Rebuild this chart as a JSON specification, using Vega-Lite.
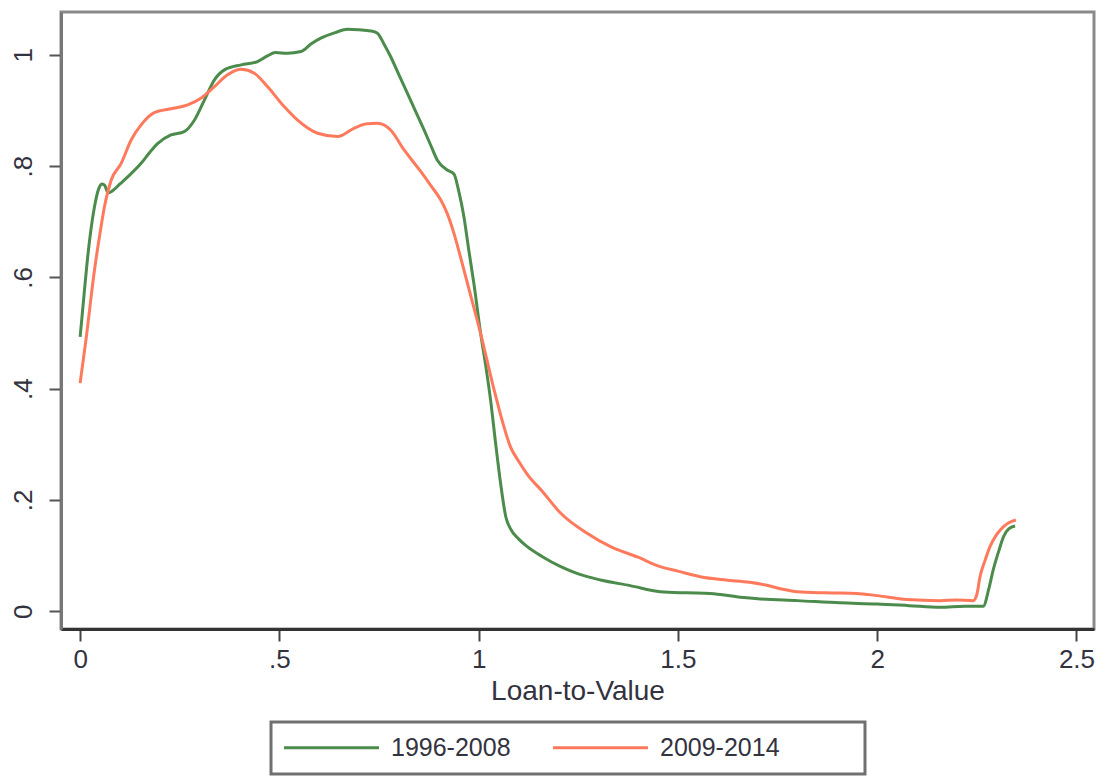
{
  "$schema": "https://vega.github.io/schema/vega-lite/v6.json",
  "width": 1033,
  "height": 617,
  "autosize": {"type": "none"},
  "padding": {"left": 61, "top": 12, "right": 17, "bottom": 149},
  "background": "white",
  "config": {
    "font": "Liberation Sans",
    "view": {"stroke": "#8a8a8a", "strokeWidth": 3},
    "legend": {"strokeWidth": 3}
  },
  "data": {
    "values": [
      {"ltv": 0.000, "density": 0.493, "period": "1996-2008"},
      {"ltv": 0.010, "density": 0.570, "period": "1996-2008"},
      {"ltv": 0.019, "density": 0.637, "period": "1996-2008"},
      {"ltv": 0.036, "density": 0.727, "period": "1996-2008"},
      {"ltv": 0.047, "density": 0.760, "period": "1996-2008"},
      {"ltv": 0.055, "density": 0.768, "period": "1996-2008"},
      {"ltv": 0.062, "density": 0.765, "period": "1996-2008"},
      {"ltv": 0.070, "density": 0.752, "period": "1996-2008"},
      {"ltv": 0.080, "density": 0.755, "period": "1996-2008"},
      {"ltv": 0.100, "density": 0.768, "period": "1996-2008"},
      {"ltv": 0.120, "density": 0.781, "period": "1996-2008"},
      {"ltv": 0.153, "density": 0.805, "period": "1996-2008"},
      {"ltv": 0.175, "density": 0.825, "period": "1996-2008"},
      {"ltv": 0.195, "density": 0.841, "period": "1996-2008"},
      {"ltv": 0.228, "density": 0.856, "period": "1996-2008"},
      {"ltv": 0.261, "density": 0.862, "period": "1996-2008"},
      {"ltv": 0.287, "density": 0.883, "period": "1996-2008"},
      {"ltv": 0.312, "density": 0.919, "period": "1996-2008"},
      {"ltv": 0.337, "density": 0.955, "period": "1996-2008"},
      {"ltv": 0.362, "density": 0.973, "period": "1996-2008"},
      {"ltv": 0.404, "density": 0.982, "period": "1996-2008"},
      {"ltv": 0.445, "density": 0.988, "period": "1996-2008"},
      {"ltv": 0.470, "density": 0.998, "period": "1996-2008"},
      {"ltv": 0.490, "density": 1.004, "period": "1996-2008"},
      {"ltv": 0.520, "density": 1.003, "period": "1996-2008"},
      {"ltv": 0.554, "density": 1.006, "period": "1996-2008"},
      {"ltv": 0.580, "density": 1.020, "period": "1996-2008"},
      {"ltv": 0.604, "density": 1.030, "period": "1996-2008"},
      {"ltv": 0.640, "density": 1.040, "period": "1996-2008"},
      {"ltv": 0.671, "density": 1.046, "period": "1996-2008"},
      {"ltv": 0.700, "density": 1.045, "period": "1996-2008"},
      {"ltv": 0.729, "density": 1.043, "period": "1996-2008"},
      {"ltv": 0.746, "density": 1.039, "period": "1996-2008"},
      {"ltv": 0.762, "density": 1.020, "period": "1996-2008"},
      {"ltv": 0.779, "density": 0.997, "period": "1996-2008"},
      {"ltv": 0.800, "density": 0.964, "period": "1996-2008"},
      {"ltv": 0.821, "density": 0.931, "period": "1996-2008"},
      {"ltv": 0.842, "density": 0.898, "period": "1996-2008"},
      {"ltv": 0.863, "density": 0.865, "period": "1996-2008"},
      {"ltv": 0.880, "density": 0.837, "period": "1996-2008"},
      {"ltv": 0.896, "density": 0.811, "period": "1996-2008"},
      {"ltv": 0.921, "density": 0.793, "period": "1996-2008"},
      {"ltv": 0.938, "density": 0.786, "period": "1996-2008"},
      {"ltv": 0.950, "density": 0.755, "period": "1996-2008"},
      {"ltv": 0.963, "density": 0.709, "period": "1996-2008"},
      {"ltv": 0.975, "density": 0.650, "period": "1996-2008"},
      {"ltv": 0.988, "density": 0.589, "period": "1996-2008"},
      {"ltv": 1.005, "density": 0.499, "period": "1996-2008"},
      {"ltv": 1.018, "density": 0.440, "period": "1996-2008"},
      {"ltv": 1.030, "density": 0.379, "period": "1996-2008"},
      {"ltv": 1.042, "density": 0.305, "period": "1996-2008"},
      {"ltv": 1.055, "density": 0.230, "period": "1996-2008"},
      {"ltv": 1.068, "density": 0.170, "period": "1996-2008"},
      {"ltv": 1.080, "density": 0.148, "period": "1996-2008"},
      {"ltv": 1.100, "density": 0.130, "period": "1996-2008"},
      {"ltv": 1.122, "density": 0.116, "period": "1996-2008"},
      {"ltv": 1.160, "density": 0.098, "period": "1996-2008"},
      {"ltv": 1.206, "density": 0.080, "period": "1996-2008"},
      {"ltv": 1.250, "density": 0.067, "period": "1996-2008"},
      {"ltv": 1.306, "density": 0.056, "period": "1996-2008"},
      {"ltv": 1.380, "density": 0.046, "period": "1996-2008"},
      {"ltv": 1.456, "density": 0.035, "period": "1996-2008"},
      {"ltv": 1.520, "density": 0.033, "period": "1996-2008"},
      {"ltv": 1.581, "density": 0.032, "period": "1996-2008"},
      {"ltv": 1.657, "density": 0.025, "period": "1996-2008"},
      {"ltv": 1.707, "density": 0.022, "period": "1996-2008"},
      {"ltv": 1.800, "density": 0.019, "period": "1996-2008"},
      {"ltv": 1.907, "density": 0.015, "period": "1996-2008"},
      {"ltv": 2.000, "density": 0.013, "period": "1996-2008"},
      {"ltv": 2.080, "density": 0.010, "period": "1996-2008"},
      {"ltv": 2.158, "density": 0.007, "period": "1996-2008"},
      {"ltv": 2.220, "density": 0.009, "period": "1996-2008"},
      {"ltv": 2.266, "density": 0.009, "period": "1996-2008"},
      {"ltv": 2.280, "density": 0.040, "period": "1996-2008"},
      {"ltv": 2.291, "density": 0.074, "period": "1996-2008"},
      {"ltv": 2.305, "density": 0.108, "period": "1996-2008"},
      {"ltv": 2.317, "density": 0.134, "period": "1996-2008"},
      {"ltv": 2.330, "density": 0.148, "period": "1996-2008"},
      {"ltv": 2.346, "density": 0.153, "period": "1996-2008"},

      {"ltv": 0.000, "density": 0.410, "period": "2009-2014"},
      {"ltv": 0.015, "density": 0.490, "period": "2009-2014"},
      {"ltv": 0.036, "density": 0.613, "period": "2009-2014"},
      {"ltv": 0.050, "density": 0.680, "period": "2009-2014"},
      {"ltv": 0.061, "density": 0.727, "period": "2009-2014"},
      {"ltv": 0.078, "density": 0.775, "period": "2009-2014"},
      {"ltv": 0.103, "density": 0.805, "period": "2009-2014"},
      {"ltv": 0.128, "density": 0.847, "period": "2009-2014"},
      {"ltv": 0.153, "density": 0.874, "period": "2009-2014"},
      {"ltv": 0.186, "density": 0.896, "period": "2009-2014"},
      {"ltv": 0.228, "density": 0.903, "period": "2009-2014"},
      {"ltv": 0.270, "density": 0.910, "period": "2009-2014"},
      {"ltv": 0.303, "density": 0.922, "period": "2009-2014"},
      {"ltv": 0.337, "density": 0.943, "period": "2009-2014"},
      {"ltv": 0.370, "density": 0.964, "period": "2009-2014"},
      {"ltv": 0.404, "density": 0.974, "period": "2009-2014"},
      {"ltv": 0.437, "density": 0.967, "period": "2009-2014"},
      {"ltv": 0.470, "density": 0.943, "period": "2009-2014"},
      {"ltv": 0.512, "density": 0.907, "period": "2009-2014"},
      {"ltv": 0.545, "density": 0.883, "period": "2009-2014"},
      {"ltv": 0.596, "density": 0.859, "period": "2009-2014"},
      {"ltv": 0.646, "density": 0.853, "period": "2009-2014"},
      {"ltv": 0.687, "density": 0.868, "period": "2009-2014"},
      {"ltv": 0.720, "density": 0.876, "period": "2009-2014"},
      {"ltv": 0.746, "density": 0.877, "period": "2009-2014"},
      {"ltv": 0.779, "density": 0.865, "period": "2009-2014"},
      {"ltv": 0.813, "density": 0.829, "period": "2009-2014"},
      {"ltv": 0.855, "density": 0.790, "period": "2009-2014"},
      {"ltv": 0.880, "density": 0.765, "period": "2009-2014"},
      {"ltv": 0.905, "density": 0.739, "period": "2009-2014"},
      {"ltv": 0.921, "density": 0.715, "period": "2009-2014"},
      {"ltv": 0.938, "density": 0.679, "period": "2009-2014"},
      {"ltv": 0.955, "density": 0.635, "period": "2009-2014"},
      {"ltv": 0.972, "density": 0.589, "period": "2009-2014"},
      {"ltv": 1.005, "density": 0.499, "period": "2009-2014"},
      {"ltv": 1.038, "density": 0.400, "period": "2009-2014"},
      {"ltv": 1.060, "density": 0.340, "period": "2009-2014"},
      {"ltv": 1.080, "density": 0.295, "period": "2009-2014"},
      {"ltv": 1.100, "density": 0.270, "period": "2009-2014"},
      {"ltv": 1.122, "density": 0.246, "period": "2009-2014"},
      {"ltv": 1.160, "density": 0.215, "period": "2009-2014"},
      {"ltv": 1.206, "density": 0.176, "period": "2009-2014"},
      {"ltv": 1.272, "density": 0.140, "period": "2009-2014"},
      {"ltv": 1.331, "density": 0.116, "period": "2009-2014"},
      {"ltv": 1.400, "density": 0.097, "period": "2009-2014"},
      {"ltv": 1.456, "density": 0.080, "period": "2009-2014"},
      {"ltv": 1.500, "density": 0.072, "period": "2009-2014"},
      {"ltv": 1.556, "density": 0.062, "period": "2009-2014"},
      {"ltv": 1.620, "density": 0.056, "period": "2009-2014"},
      {"ltv": 1.680, "density": 0.052, "period": "2009-2014"},
      {"ltv": 1.720, "density": 0.047, "period": "2009-2014"},
      {"ltv": 1.760, "density": 0.040, "period": "2009-2014"},
      {"ltv": 1.799, "density": 0.035, "period": "2009-2014"},
      {"ltv": 1.870, "density": 0.033, "period": "2009-2014"},
      {"ltv": 1.949, "density": 0.032, "period": "2009-2014"},
      {"ltv": 2.000, "density": 0.028, "period": "2009-2014"},
      {"ltv": 2.074, "density": 0.021, "period": "2009-2014"},
      {"ltv": 2.158, "density": 0.019, "period": "2009-2014"},
      {"ltv": 2.200, "density": 0.020, "period": "2009-2014"},
      {"ltv": 2.241, "density": 0.019, "period": "2009-2014"},
      {"ltv": 2.250, "density": 0.030, "period": "2009-2014"},
      {"ltv": 2.258, "density": 0.062, "period": "2009-2014"},
      {"ltv": 2.270, "density": 0.090, "period": "2009-2014"},
      {"ltv": 2.283, "density": 0.116, "period": "2009-2014"},
      {"ltv": 2.300, "density": 0.138, "period": "2009-2014"},
      {"ltv": 2.317, "density": 0.152, "period": "2009-2014"},
      {"ltv": 2.330, "density": 0.159, "period": "2009-2014"},
      {"ltv": 2.348, "density": 0.164, "period": "2009-2014"}
    ]
  },
  "mark": {"type": "line", "strokeWidth": 3, "interpolate": "monotone"},
  "encoding": {
    "x": {
      "field": "ltv",
      "type": "quantitative",
      "scale": {"domain": [-0.048, 2.544], "nice": false, "zero": false},
      "axis": {
        "values": [0, 0.5, 1, 1.5, 2, 2.5],
        "format": "~g",
        "labelExpr": "datum.value > 0 && datum.value < 1 ? substring(datum.label, 1) : datum.label",
        "grid": false,
        "domainColor": "#333333",
        "domainWidth": 3,
        "tickColor": "#444444",
        "tickWidth": 2,
        "tickSize": 12,
        "labelFontSize": 26,
        "labelColor": "#333340",
        "labelPadding": 5,
        "title": "Loan-to-Value",
        "titleFontSize": 28,
        "titleFontWeight": "normal",
        "titleColor": "#333340",
        "titlePadding": 5
      }
    },
    "y": {
      "field": "density",
      "type": "quantitative",
      "scale": {"domain": [-0.032, 1.077], "nice": false, "zero": false},
      "axis": {
        "values": [0, 0.2, 0.4, 0.6, 0.8, 1],
        "format": "~g",
        "labelExpr": "datum.value > 0 && datum.value < 1 ? substring(datum.label, 1) : datum.label",
        "grid": false,
        "domainColor": "#777777",
        "domainWidth": 3,
        "tickColor": "#555555",
        "tickWidth": 2,
        "tickSize": 12,
        "labelAngle": 270,
        "labelAlign": "center",
        "labelBaseline": "bottom",
        "labelFontSize": 26,
        "labelColor": "#333340",
        "labelPadding": 13,
        "title": null
      }
    },
    "color": {
      "field": "period",
      "type": "nominal",
      "scale": {"domain": ["1996-2008", "2009-2014"], "range": ["#4b8b4b", "#ff7a5c"]},
      "legend": {
        "orient": "none",
        "legendX": 210,
        "legendY": 710,
        "direction": "horizontal",
        "title": null,
        "symbolType": "M-5,0H5",
        "symbolSize": 361,
        "symbolStrokeWidth": 3,
        "symbolOffset": 35,
        "labelExpr": "datum.label == '2009-2014' ? datum.label + '\u2800\u2800\u2800\u2800' : datum.label",
        "labelLimit": 400,
        "labelFontSize": 25,
        "labelColor": "#333340",
        "labelOffset": 47,
        "columnPadding": 36,
        "padding": 13,
        "strokeColor": "#707070",
        "fillColor": "white"
      }
    }
  }
}
